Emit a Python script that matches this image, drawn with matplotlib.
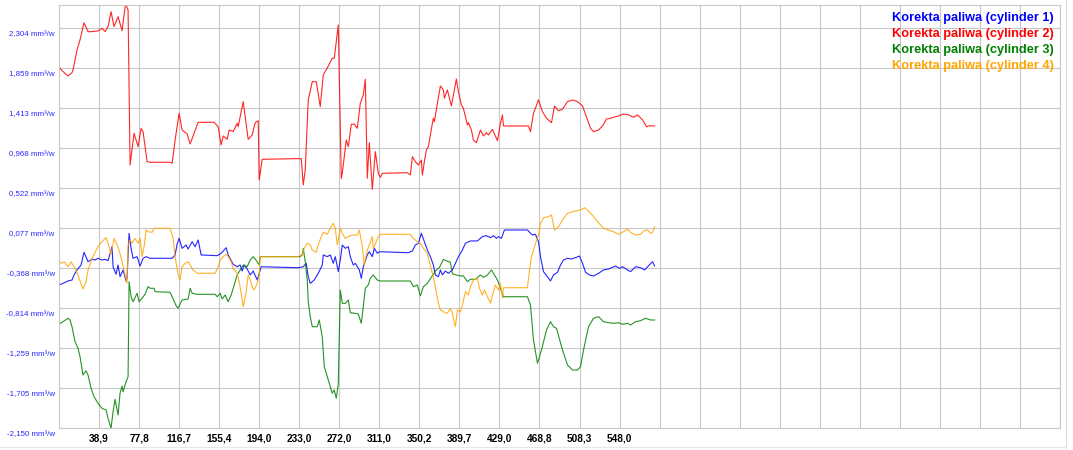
import numpy as np
import matplotlib
matplotlib.use('Agg')
import matplotlib.pyplot as plt
from matplotlib.lines import Line2D
from matplotlib.transforms import ScaledTranslation

# sample index (one grid cell = 40 samples) and fuel correction values in mm3/w
red_x = [0,3,9,13,14,18,21,25,29,32,39,43,46,49,52,55,59,63,66,67,69,71,75,79,82,84,88,91,111,113,
         116,120,123,128,131,135,139,155,159,162,164,168,170,174,178,179,184,189,193,196,199,200,203,236,242,
         244,246,249,253,257,261,264,268,273,275,279,282,283,287,289,292,295,298,301,304,306,308,310,313,316,
         319,321,323,348,351,353,356,359,362,363,365,367,369,373,374,375,378,381,384,385,388,392,394,397,399,
         402,404,408,409,412,414,417,421,424,427,429,433,438,441,443,444,469,471,474,479,483,487,492,495,499,
         503,508,513,518,523,528,531,534,539,543,547,551,556,559,564,569,574,578,583,587,590,595]
red_v = [1.876,1.832,1.773,1.810,1.840,2.062,2.174,2.366,2.266,2.266,2.274,2.304,2.266,2.322,2.489,2.322,
         2.433,2.277,2.538,2.563,2.508,0.782,1.135,0.986,1.190,1.153,0.819,0.812,0.812,0.801,1.060,1.357,1.171,
         1.127,1.016,1.135,1.257,1.257,1.208,1.005,1.105,1.068,1.171,1.153,1.246,1.208,1.487,1.068,1.116,1.253,
         1.275,0.615,0.845,0.852,0.852,0.559,0.726,1.506,1.709,1.709,1.431,1.784,1.862,1.970,1.970,2.341,0.634,
         0.689,1.060,0.986,1.235,1.235,1.190,1.469,1.561,1.736,0.634,1.030,0.511,0.930,0.689,0.645,0.689,0.696,
         0.670,0.874,0.819,0.782,0.837,0.670,0.819,0.949,0.986,1.246,1.302,1.264,1.469,1.662,1.617,1.525,1.617,
         1.439,1.561,1.739,1.598,1.450,1.413,1.227,1.253,1.171,1.060,1.030,1.171,1.105,1.141,1.116,1.179,1.052,
         1.246,1.339,1.216,1.216,1.153,1.357,1.506,1.375,1.302,1.253,1.439,1.386,1.402,1.487,1.506,1.487,1.439,
         1.283,1.190,1.153,1.171,1.216,1.294,1.302,1.320,1.327,1.350,1.339,1.313,1.339,1.283,1.208,1.219,1.216]

blue_x = [0,4,9,13,15,18,22,25,29,33,36,39,43,46,49,53,54,57,59,61,64,67,68,70,72,74,78,81,84,87,
          91,113,116,118,120,123,127,129,133,136,139,142,158,162,167,169,174,178,181,183,185,188,191,194,198,
          200,202,239,244,247,249,251,255,259,263,264,268,271,274,276,279,281,283,286,289,291,294,296,300,302,
          304,308,310,313,315,318,320,349,353,356,359,362,365,368,371,374,376,379,381,383,386,389,393,396,399,
          403,406,411,418,423,427,431,434,437,439,442,445,468,471,473,476,479,481,484,488,491,494,498,501,504,
          508,512,516,520,523,526,530,534,539,544,549,556,560,563,568,571,576,581,585,589,593,595]
blue_v = [-0.554,-0.536,-0.510,-0.499,-0.443,-0.387,-0.332,-0.190,-0.295,-0.268,-0.276,-0.257,-0.276,-0.268,
          -0.284,-0.128,-0.351,-0.435,-0.332,-0.462,-0.387,-0.510,-0.473,0.021,-0.146,-0.257,-0.239,-0.343,-0.257,
          -0.239,-0.257,-0.257,-0.220,-0.101,-0.035,-0.146,-0.109,-0.154,-0.072,-0.128,-0.053,-0.220,-0.228,-0.202,
          -0.139,-0.220,-0.324,-0.351,-0.332,-0.399,-0.332,-0.376,-0.443,-0.399,-0.499,-0.424,-0.351,-0.362,-0.351,
          -0.313,-0.462,-0.536,-0.499,-0.424,-0.332,-0.220,-0.239,-0.220,-0.313,-0.239,-0.406,-0.276,-0.109,-0.146,
          -0.128,-0.239,-0.332,-0.313,-0.387,-0.480,-0.351,-0.220,-0.184,-0.239,-0.146,-0.202,-0.184,-0.195,-0.176,
          -0.109,-0.090,0.021,-0.072,-0.165,-0.239,-0.332,-0.443,-0.462,-0.387,-0.443,-0.399,-0.424,-0.387,-0.313,
          -0.239,-0.165,-0.090,-0.064,-0.064,-0.016,-0.005,-0.028,-0.005,-0.035,-0.016,-0.035,0.058,0.058,0.021,
          0.002,0.010,-0.072,-0.239,-0.406,-0.462,-0.510,-0.443,-0.413,-0.332,-0.276,-0.257,-0.265,-0.250,-0.232,
          -0.313,-0.413,-0.443,-0.454,-0.424,-0.387,-0.376,-0.343,-0.369,-0.351,-0.387,-0.406,-0.351,-0.362,-0.387,
          -0.340,-0.295,-0.343]

green_x = [0,4,9,11,13,16,19,21,24,27,29,32,35,39,43,47,49,52,54,56,59,61,63,64,67,69,70,72,74,78,
           80,83,86,89,91,95,96,111,114,117,119,123,129,131,133,138,156,158,161,163,166,169,172,175,178,
           181,184,188,191,194,198,200,201,241,243,244,246,248,249,251,253,258,260,263,265,269,273,275,277,279,
           281,283,286,289,291,296,299,302,304,306,309,311,314,318,321,351,354,358,361,364,368,373,376,380,384,
           388,391,393,396,401,404,408,411,416,421,424,428,432,434,438,441,444,468,471,474,478,482,487,491,494,
           497,503,508,513,518,521,524,529,534,539,544,549,554,559,563,568,571,576,581,586,591,595]
green_v = [-0.989,-0.963,-0.925,-0.944,-1.019,-1.186,-1.259,-1.353,-1.557,-1.509,-1.557,-1.705,-1.798,-1.872,
           -1.928,-1.946,-2.039,-2.150,-1.965,-1.827,-2.002,-1.760,-1.679,-1.743,-1.631,-1.575,-0.518,-0.685,-0.740,
           -0.647,-0.740,-0.702,-0.658,-0.573,-0.591,-0.591,-0.629,-0.636,-0.710,-0.785,-0.814,-0.721,-0.710,-0.591,
           -0.647,-0.658,-0.658,-0.685,-0.647,-0.710,-0.666,-0.740,-0.666,-0.554,-0.443,-0.387,-0.332,-0.351,-0.276,
           -0.239,-0.295,-0.332,-0.239,-0.239,-0.220,-0.146,-0.295,-0.500,-0.740,-0.907,-1.019,-1.019,-0.944,-1.130,
           -1.464,-1.612,-1.760,-1.724,-1.816,-1.660,-0.610,-0.758,-0.760,-0.721,-0.863,-0.870,-0.878,-0.981,-0.796,
           -0.591,-0.554,-0.480,-0.443,-0.499,-0.510,-0.510,-0.573,-0.554,-0.675,-0.573,-0.536,-0.450,-0.400,-0.360,
           -0.270,-0.290,-0.300,-0.430,-0.440,-0.454,-0.454,-0.518,-0.490,-0.491,-0.443,-0.469,-0.443,-0.387,-0.424,
           -0.499,-0.591,-0.685,-0.685,-0.777,-1.167,-1.426,-1.278,-1.056,-0.963,-1.019,-1.037,-1.278,-1.445,-1.501,
           -1.501,-1.464,-1.278,-1.019,-0.925,-0.907,-0.963,-0.974,-0.981,-0.974,-0.992,-0.981,-1.000,-0.963,-0.952,
           -0.925,-0.944,-0.944]

orange_x = [0,3,5,9,12,14,18,21,24,27,29,33,36,39,43,47,49,52,55,58,60,63,66,68,69,71,73,76,79,81,
            83,85,87,89,93,95,111,114,116,119,121,123,126,129,132,134,138,156,159,161,164,167,169,172,174,
            178,180,182,184,187,189,191,193,195,198,200,201,239,243,245,248,251,253,257,259,262,264,268,271,274,
            276,278,281,283,286,289,293,298,300,303,305,308,310,313,314,317,319,321,351,354,358,361,364,368,370,
            373,376,379,381,384,388,391,393,396,398,401,403,406,409,411,414,418,420,423,425,428,431,433,436,439,
            441,443,444,468,469,472,475,479,481,484,489,492,495,499,503,508,513,518,521,525,529,534,539,544,549,
            554,559,564,568,571,576,581,584,588,591,593,595]
orange_v = [-0.295,-0.313,-0.295,-0.351,-0.295,-0.332,-0.413,-0.510,-0.599,-0.518,-0.387,-0.257,-0.190,-0.128,
            -0.072,-0.028,-0.090,-0.213,-0.035,-0.109,-0.165,-0.295,-0.443,-0.536,-0.109,-0.053,-0.090,-0.035,-0.090,
            -0.035,-0.239,-0.128,0.058,0.039,0.032,0.077,0.077,-0.035,-0.239,-0.443,-0.499,-0.351,-0.313,-0.295,
            -0.351,-0.387,-0.424,-0.424,-0.351,-0.276,-0.239,-0.213,-0.239,-0.295,-0.369,-0.424,-0.518,-0.647,-0.796,
            -0.629,-0.443,-0.499,-0.573,-0.610,-0.536,-0.443,-0.239,-0.239,-0.213,-0.146,-0.090,-0.109,-0.165,-0.190,
            -0.109,-0.016,0.032,0.010,0.077,0.133,0.077,-0.109,0.077,0.021,-0.035,-0.016,0.002,0.002,0.058,-0.128,
            -0.332,-0.165,-0.109,-0.016,-0.146,-0.072,-0.016,0.010,0.010,-0.035,-0.072,-0.090,-0.146,-0.202,-0.295,
            -0.424,-0.573,-0.758,-0.833,-0.852,-0.870,-0.814,-0.870,-1.019,-0.833,-0.852,-0.777,-0.629,-0.666,-0.573,
            -0.499,-0.480,-0.591,-0.666,-0.610,-0.685,-0.758,-0.666,-0.554,-0.610,-0.536,-0.702,-0.585,-0.585,-0.480,
            -0.239,-0.128,0.002,0.133,0.195,0.206,0.225,0.058,0.095,0.169,0.244,0.262,0.273,0.281,0.306,0.270,0.206,
            0.139,0.077,0.058,0.039,0.010,0.039,0.069,0.032,0.002,0.010,0.047,0.058,0.021,0.032,0.095]

series = [('Korekta paliwa (cylinder 1)', blue_x, blue_v, '#0000ff'),
          ('Korekta paliwa (cylinder 2)', red_x, red_v, '#ff0000'),
          ('Korekta paliwa (cylinder 3)', green_x, green_v, '#008000'),
          ('Korekta paliwa (cylinder 4)', orange_x, orange_v, '#ffa500')]

y_ticks = [2.304, 1.859, 1.413, 0.968, 0.522, 0.077, -0.368, -0.814, -1.259, -1.705, -2.150]
y_labels = ['2,304 mm\u00b3/w', '1,859 mm\u00b3/w', '1,413 mm\u00b3/w', '0,968 mm\u00b3/w', '0,522 mm\u00b3/w',
            '0,077 mm\u00b3/w', '-0,368 mm\u00b3/w', '-0,814 mm\u00b3/w', '-1,259 mm\u00b3/w', '-1,705 mm\u00b3/w',
            '-2,150 mm\u00b3/w']
x_labels = ['38,9', '77,8', '116,7', '155,4', '194,0', '233,0', '272,0', '311,0', '350,2',
            '389,7', '429,0', '468,8', '508,3', '548,0']

plt.rcParams['font.family'] = ['Liberation Sans', 'DejaVu Sans']

fig = plt.figure(figsize=(10.73, 4.5), dpi=100)
ax = fig.add_axes([59/1073, 21.7/450, 1001/1073, 423.3/450])

for name, xs, vs, col in series:
    ax.plot(xs, vs, color=col, lw=0.8, alpha=0.85, solid_joinstyle='round')

ax.set_xlim(0, 1000)
ax.set_ylim(-2.150, 2.563)

grid_col = '#c8c8c8'
xt = np.arange(40, 1001, 40)
ax.set_xticks(xt)
ax.set_xticklabels(x_labels + [''] * (len(xt) - len(x_labels)),
                   fontsize=7.3, fontweight='bold',
                   family=['Liberation Sans Narrow', 'Liberation Sans', 'DejaVu Sans'])
ax.set_yticks(y_ticks)
ax.set_yticklabels(y_labels, fontsize=5.7, color='#2a2aff')
ax.tick_params(axis='both', length=0)
ax.tick_params(axis='x', pad=4)
ax.tick_params(axis='y', pad=3)
# y labels sit a little below their grid line
shift = ScaledTranslation(0, -2.5/100, fig.dpi_scale_trans)
for lab in ax.get_yticklabels():
    lab.set_va('top')
    lab.set_transform(lab.get_transform() + shift)
ax.grid(True, color=grid_col, lw=0.8)
ax.set_axisbelow(True)
for s in ax.spines.values():
    s.set_color(grid_col)
    s.set_linewidth(0.8)

# legend as coloured text, top right
for i, (name, xs, vs, col) in enumerate(series):
    fig.text(1054/1073, 1 - (17.5 + 16*i)/450, name, color=col, fontsize=9.2,
             fontweight='bold', ha='right', va='center')

# outer frame
fig.add_artist(Line2D([1066/1073, 1066/1073], [2/450, 1], color='#dcdcdc', lw=0.8))
fig.add_artist(Line2D([0, 1066/1073], [3/450, 3/450], color='#e6e6e6', lw=0.8))

fig.savefig('out.png', dpi=100)
